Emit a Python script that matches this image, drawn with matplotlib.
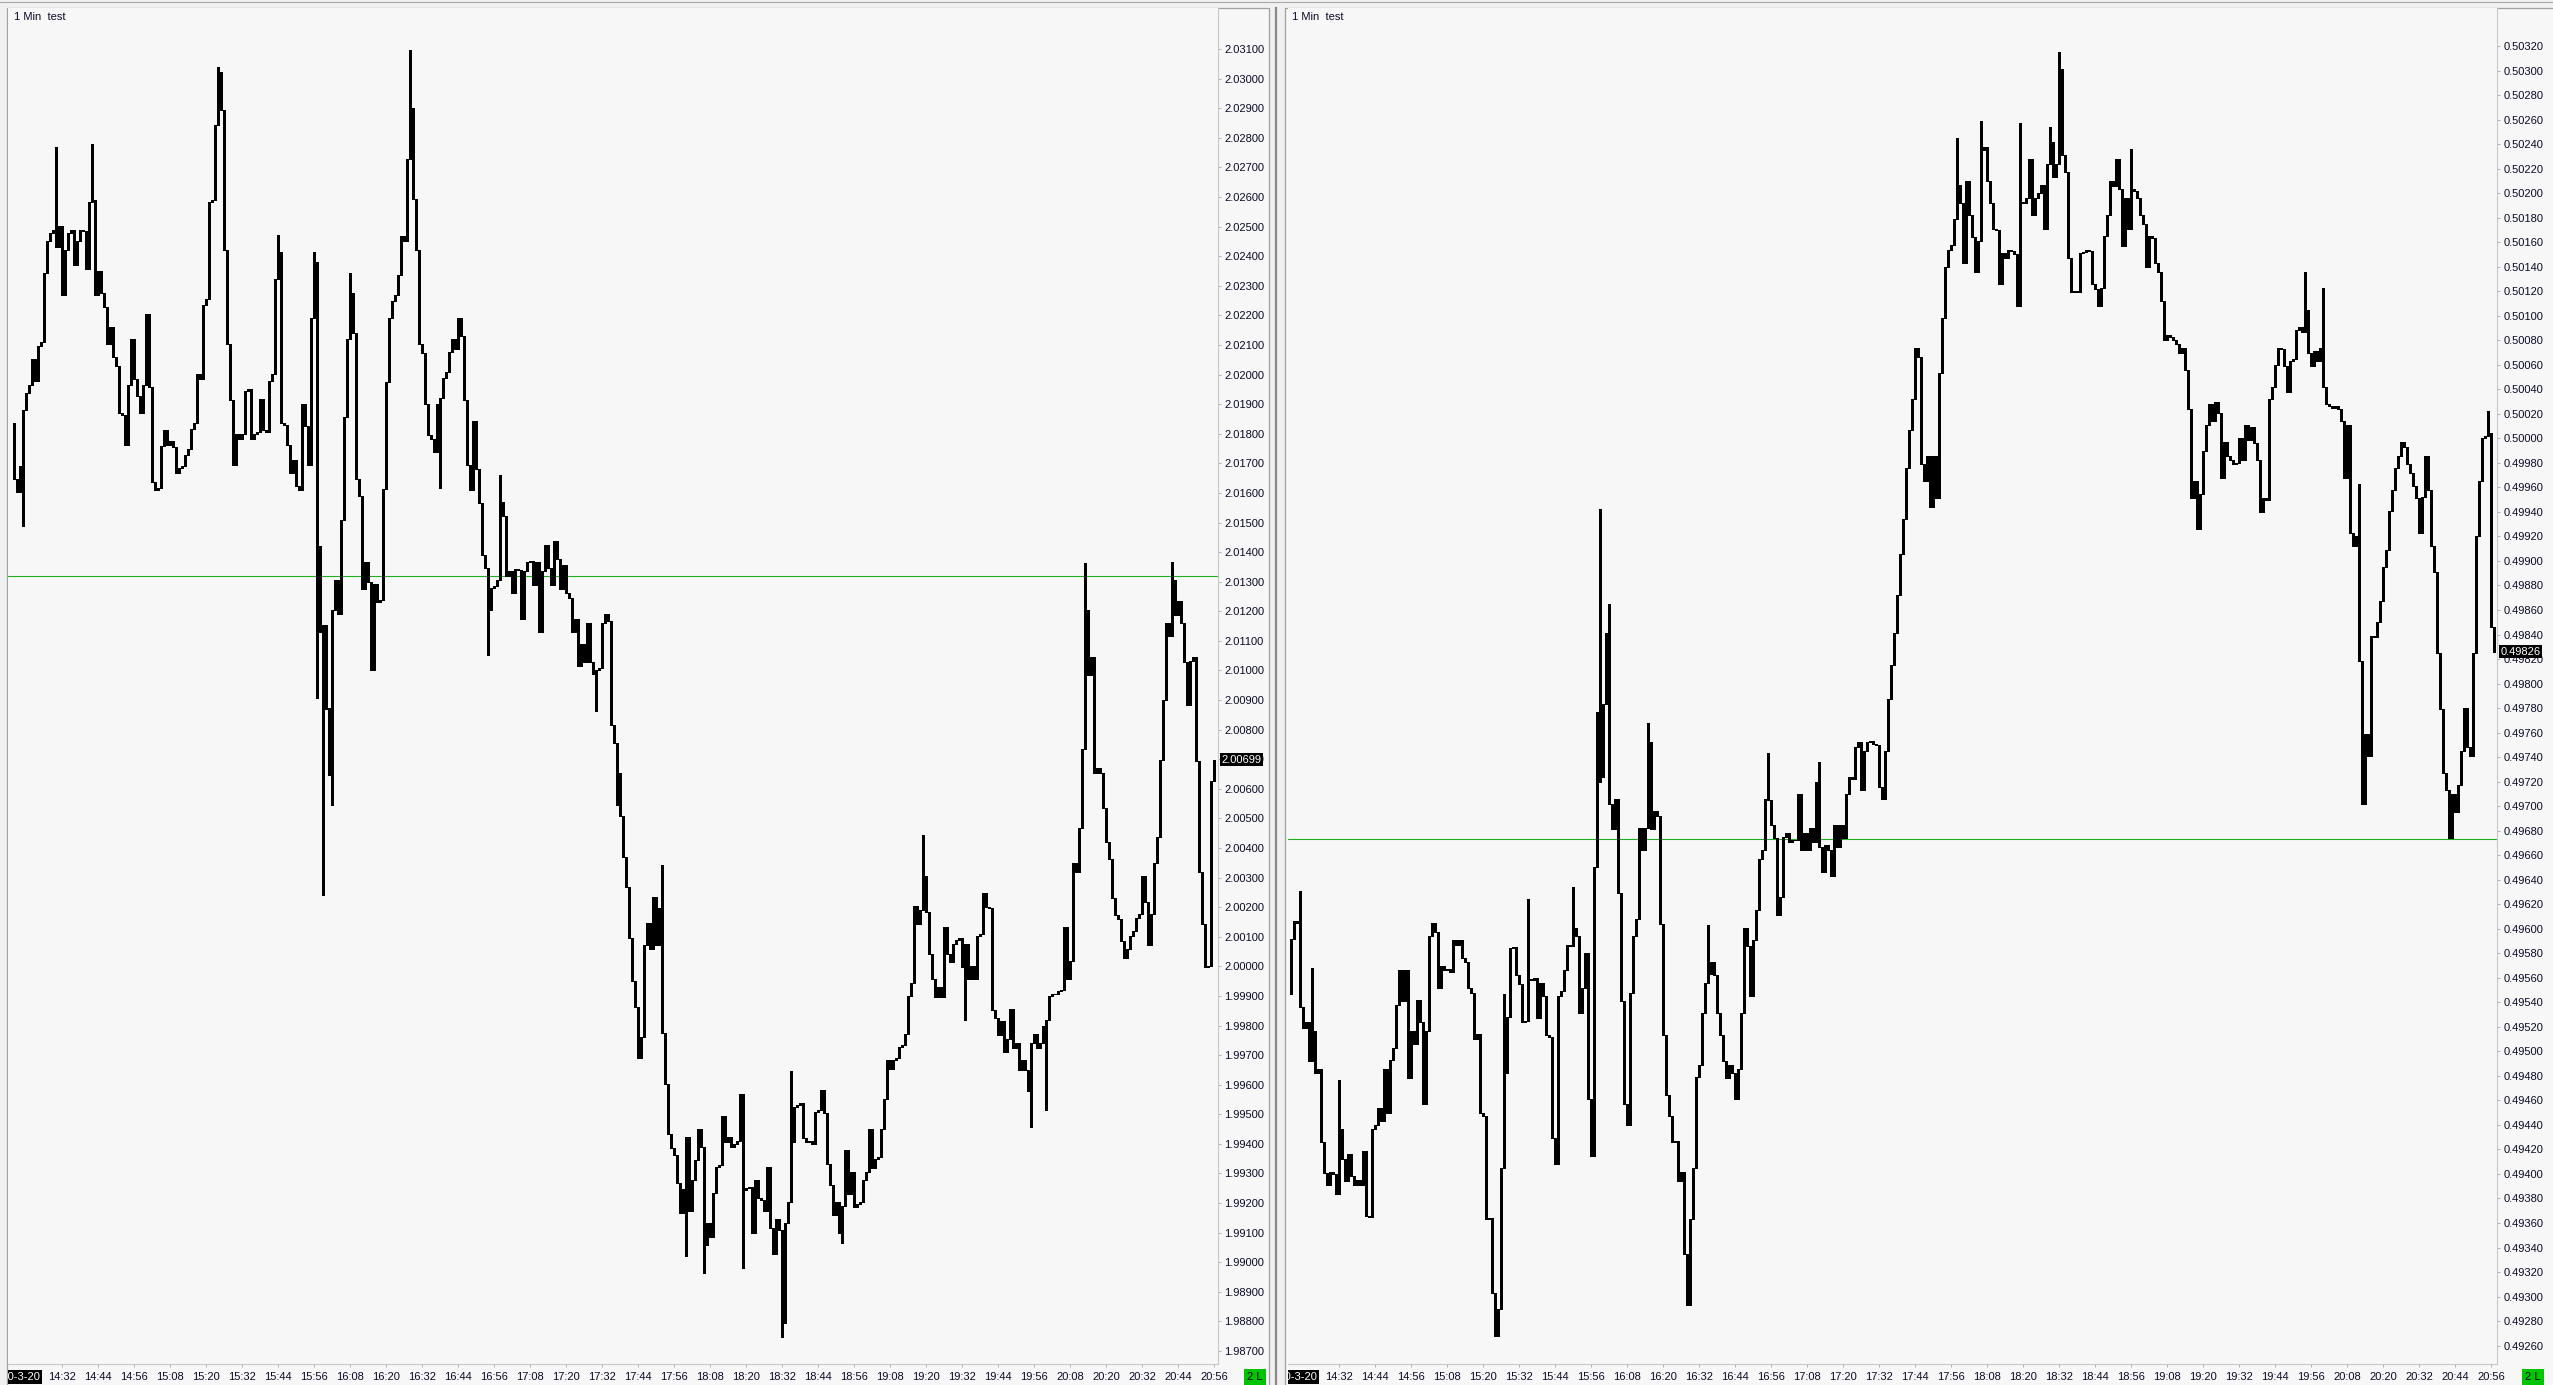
# -*- coding: utf-8 -*-
"""
Two 1-minute candle panels side by side, drawn like a trading terminal.
"""

import numpy as np
import matplotlib
matplotlib.use('Agg')
import matplotlib.pyplot as plt
from matplotlib.patches import Rectangle
from matplotlib.lines import Line2D
from matplotlib.ticker import FormatStrFormatter
from matplotlib.transforms import Bbox, TransformedBbox, blended_transform_factory

plt.rcParams['font.family'] = ['Liberation Sans', 'DejaVu Sans']

# ---- data: minute 0 = 14:16, one close per minute ----
left_open0 = 2.01835
left_close = [
    2.01647, 2.01603, 2.01690, 2.01879, 2.01937, 2.01966, 2.02053, 2.01980, 2.02096, 2.02111,
    2.02343, 2.02450, 2.02479, 2.02488, 2.02430, 2.02502, 2.02270, 2.02421, 2.02479, 2.02488,
    2.02372, 2.02450, 2.02488, 2.02485, 2.02357, 2.02583, 2.02589, 2.02270, 2.02351, 2.02276,
    2.02227, 2.02102, 2.02160, 2.02061, 2.02029, 2.01870, 2.01864, 2.01763, 2.01966, 2.02119,
    2.01986, 2.01928, 2.01870, 2.01966, 2.02206, 2.01957, 2.01638, 2.01609, 2.01618, 2.01757,
    2.01812, 2.01763, 2.01777, 2.01754, 2.01667, 2.01684, 2.01690, 2.01728, 2.01748, 2.01815,
    2.01835, 2.02003, 2.01986, 2.02235, 2.02256, 2.02583, 2.02589, 2.02844, 2.02981, 2.02894,
    2.02421, 2.02102, 2.01913, 2.01696, 2.01800, 2.01783, 2.01800, 2.01945, 2.01951, 2.01783,
    2.01800, 2.01806, 2.01916, 2.01812, 2.01806, 2.01980, 2.02003, 2.02322, 2.02415, 2.01835,
    2.01830, 2.01763, 2.01667, 2.01713, 2.01623, 2.01609, 2.01902, 2.01826, 2.01696, 2.02192,
    2.02380, 2.01420, 2.01130, 2.01154, 2.00869, 2.00872, 2.01206, 2.01307, 2.01191, 2.01510,
    2.01858, 2.02119, 2.02276, 2.02140, 2.01647, 2.01589, 2.01275, 2.01365, 2.01299, 2.01000,
    2.01293, 2.01232, 2.01238, 2.01612, 2.01974, 2.02192, 2.02250, 2.02270, 2.02337, 2.02467,
    2.02450, 2.02728, 2.02902, 2.02595, 2.02421, 2.02102, 2.02073, 2.01899, 2.01797, 2.01783,
    2.01739, 2.01902, 2.01922, 2.01989, 2.02009, 2.02076, 2.02119, 2.02087, 2.02192, 2.02131,
    2.01913, 2.01696, 2.01609, 2.01844, 2.01681, 2.01565, 2.01391, 2.01348, 2.01203, 2.01278,
    2.01284, 2.01307, 2.01568, 2.01522, 2.01319, 2.01336, 2.01261, 2.01342, 2.01340, 2.01174,
    2.01336, 2.01365, 2.01371, 2.01290, 2.01365, 2.01130, 2.01336, 2.01423, 2.01348, 2.01290,
    2.01438, 2.01377, 2.01275, 2.01357, 2.01261, 2.01246, 2.01130, 2.01174, 2.01014, 2.01090,
    2.01029, 2.01162, 2.01029, 2.00988, 2.01003, 2.01009, 2.01162, 2.01191, 2.01168, 2.00814,
    2.00756, 2.00652, 2.00507, 2.00371, 2.00269, 2.00095, 1.99950, 1.99863, 1.99689, 1.99762,
    2.00072, 2.00147, 2.00057, 2.00234, 2.00072, 2.00197, 1.99776, 1.99602, 1.99434, 1.99385,
    1.99364, 1.99269, 1.99167, 1.99248, 1.99422, 1.99173, 1.99277, 1.99347, 1.99451, 1.99390,
    1.99057, 1.99132, 1.99086, 1.99234, 1.99321, 1.99327, 1.99495, 1.99405, 1.99422, 1.99390,
    1.99399, 1.99411, 1.99567, 1.99245, 1.99251, 1.99254, 1.99100, 1.99277, 1.99216, 1.99211,
    1.99173, 1.99321, 1.99115, 1.99028, 1.99147, 1.99109, 1.98796, 1.99132, 1.99205, 1.99408,
    1.99524, 1.99530, 1.99538, 1.99419, 1.99405, 1.99411, 1.99399, 1.99509, 1.99515, 1.99582,
    1.99506, 1.99332, 1.99260, 1.99158, 1.99205, 1.99100, 1.99190, 1.99379, 1.99231, 1.99306,
    1.99187, 1.99196, 1.99205, 1.99277, 1.99306, 1.99451, 1.99318, 1.99350, 1.99356, 1.99451,
    1.99553, 1.99683, 1.99654, 1.99683, 1.99689, 1.99727, 1.99733, 1.99770, 1.99901, 1.99944,
    2.00205, 2.00144, 2.00191, 2.00307, 2.00182, 2.00043, 1.99956, 1.99898, 1.99930, 1.99898,
    2.00133, 2.00043, 2.00014, 2.00075, 2.00089, 2.00095, 1.99999, 2.00075, 1.99956, 2.00002,
    1.99956, 2.00104, 2.00110, 2.00249, 2.00202, 2.00197, 1.99854, 1.99825, 1.99767, 1.99814,
    1.99709, 1.99756, 1.99857, 1.99724, 1.99741, 1.99651, 1.99683, 1.99651, 1.99579, 1.99741,
    1.99770, 1.99724, 1.99741, 1.99799, 1.99820, 1.99901, 1.99907, 1.99905, 1.99915, 1.99921,
    2.00133, 1.99956, 2.00017, 2.00350, 2.00318, 2.00466, 2.00733, 2.01206, 2.00985, 2.01046,
    2.00652, 2.00669, 2.00652, 2.00536, 2.00420, 2.00362, 2.00231, 2.00173, 2.00159, 2.00086,
    2.00028, 2.00060, 2.00104, 2.00118, 2.00162, 2.00176, 2.00307, 2.00217, 2.00072, 2.00176,
    2.00350, 2.00437, 2.00698, 2.00901, 2.01162, 2.01116, 2.01307, 2.01188, 2.01235, 2.01159,
    2.01029, 2.00884, 2.01032, 2.01046, 2.00695, 2.00318, 2.00144, 1.99999, 2.00002, 2.00626,
    2.00699,
]
# long wicks: minute index and extreme price
left_wick_min = [3, 14, 26, 68, 69, 88, 100, 101, 103, 105, 106, 112, 132, 142, 158, 162,
                 194, 201, 216, 224, 230, 243, 256, 259, 276, 303, 317, 339, 344, 357, 386]
left_wick_px = [2.01487, 2.02769, 2.02778, 2.03039, 2.03024, 2.02473, 2.02415, 2.00907,
                2.00240, 2.00646, 2.00545, 2.02343, 2.03097, 2.01617, 2.01052, 2.01661,
                2.00864, 2.00545, 2.00342, 1.99022, 1.98964, 1.98979, 1.98747, 1.99646,
                1.99066, 2.00443, 1.99820, 1.99457, 1.99515, 2.01362, 2.01365]
left_level = 2.01318
left_last = '2.00699'
left_ticks = (1.98700, 2.03100, 0.00100)   # first, last, step of the price scale

right_open0 = 0.49547
right_close = [
    0.49592, 0.49606, 0.49605, 0.49536, 0.49519, 0.49524, 0.49492, 0.49517, 0.49482, 0.49486,
    0.49426, 0.49401, 0.49391, 0.49402, 0.49400, 0.49384, 0.49437, 0.49412, 0.49394, 0.49416,
    0.49398, 0.49391, 0.49395, 0.49391, 0.49419, 0.49366, 0.49365, 0.49437, 0.49440, 0.49454,
    0.49443, 0.49486, 0.49450, 0.49493, 0.49503, 0.49538, 0.49566, 0.49541, 0.49566, 0.49478,
    0.49517, 0.49506, 0.49542, 0.49524, 0.49457, 0.49517, 0.49594, 0.49605, 0.49597, 0.49552,
    0.49570, 0.49566, 0.49567, 0.49565, 0.49591, 0.49587, 0.49591, 0.49576, 0.49573, 0.49552,
    0.49548, 0.49510, 0.49514, 0.49450, 0.49447, 0.49363, 0.49364, 0.49303, 0.49268, 0.49290,
    0.49405, 0.49482, 0.49528, 0.49584, 0.49585, 0.49562, 0.49555, 0.49524, 0.49525, 0.49559,
    0.49558, 0.49560, 0.49527, 0.49556, 0.49545, 0.49513, 0.49512, 0.49429, 0.49408, 0.49545,
    0.49549, 0.49566, 0.49587, 0.49586, 0.49601, 0.49594, 0.49531, 0.49552, 0.49580, 0.49461,
    0.49415, 0.49650, 0.49720, 0.49724, 0.49783, 0.49785, 0.49702, 0.49681, 0.49706, 0.49629,
    0.49541, 0.49457, 0.49440, 0.49548, 0.49594, 0.49608, 0.49682, 0.49664, 0.49682, 0.49752,
    0.49681, 0.49696, 0.49692, 0.49604, 0.49513, 0.49464, 0.49447, 0.49426, 0.49427, 0.49394,
    0.49402, 0.49335, 0.49293, 0.49363, 0.49405, 0.49479, 0.49489, 0.49531, 0.49556, 0.49563,
    0.49573, 0.49562, 0.49531, 0.49513, 0.49492, 0.49478, 0.49489, 0.49482, 0.49461, 0.49486,
    0.49531, 0.49601, 0.49586, 0.49545, 0.49591, 0.49615, 0.49657, 0.49664, 0.49706, 0.49705,
    0.49685, 0.49674, 0.49611, 0.49626, 0.49675, 0.49678, 0.49671, 0.49672, 0.49672, 0.49710,
    0.49664, 0.49678, 0.49664, 0.49682, 0.49671, 0.49720, 0.49667, 0.49646, 0.49668, 0.49664,
    0.49643, 0.49685, 0.49667, 0.49685, 0.49674, 0.49710, 0.49724, 0.49722, 0.49748, 0.49752,
    0.49713, 0.49745, 0.49752, 0.49753, 0.49751, 0.49750, 0.49716, 0.49706, 0.49745, 0.49787,
    0.49815, 0.49841, 0.49872, 0.49906, 0.49934, 0.49976, 0.50007, 0.50032, 0.50074, 0.50066,
    0.49979, 0.49965, 0.49986, 0.49944, 0.49986, 0.49951, 0.50053, 0.50098, 0.50140, 0.50154,
    0.50158, 0.50179, 0.50207, 0.50192, 0.50143, 0.50210, 0.50182, 0.50164, 0.50136, 0.50161,
    0.50235, 0.50238, 0.50210, 0.50192, 0.50171, 0.50170, 0.50126, 0.50151, 0.50147, 0.50154,
    0.50153, 0.50150, 0.50108, 0.50193, 0.50192, 0.50196, 0.50228, 0.50182, 0.50196, 0.50200,
    0.50207, 0.50171, 0.50224, 0.50242, 0.50213, 0.50224, 0.50301, 0.50231, 0.50217, 0.50147,
    0.50119, 0.50120, 0.50119, 0.50151, 0.50152, 0.50154, 0.50153, 0.50126, 0.50122, 0.50108,
    0.50123, 0.50165, 0.50182, 0.50210, 0.50206, 0.50228, 0.50203, 0.50157, 0.50196, 0.50171,
    0.50203, 0.50202, 0.50196, 0.50182, 0.50175, 0.50140, 0.50165, 0.50163, 0.50143, 0.50136,
    0.50112, 0.50080, 0.50084, 0.50083, 0.50080, 0.50077, 0.50070, 0.50074, 0.50056, 0.50024,
    0.49951, 0.49965, 0.49926, 0.49955, 0.49990, 0.50011, 0.50028, 0.50014, 0.50030, 0.50021,
    0.49968, 0.49997, 0.49986, 0.49982, 0.49979, 0.49980, 0.50000, 0.49982, 0.50011, 0.49999,
    0.50009, 0.49996, 0.49982, 0.49940, 0.49951, 0.49950, 0.50032, 0.50042, 0.50060, 0.50074,
    0.50073, 0.50059, 0.50038, 0.50063, 0.50065, 0.50088, 0.50091, 0.50087, 0.50105, 0.50070,
    0.50059, 0.50071, 0.50063, 0.50074, 0.50042, 0.50028, 0.50026, 0.50025, 0.50026, 0.50024,
    0.50014, 0.49968, 0.50011, 0.49923, 0.49912, 0.49920, 0.49818, 0.49702, 0.49759, 0.49741,
    0.49839, 0.49838, 0.49850, 0.49867, 0.49895, 0.49909, 0.49941, 0.49958, 0.49976, 0.49986,
    0.49997, 0.49993, 0.49979, 0.49972, 0.49961, 0.49951, 0.49923, 0.49952, 0.49986, 0.49958,
    0.49912, 0.49891, 0.49825, 0.49779, 0.49727, 0.49713, 0.49674, 0.49710, 0.49695, 0.49717,
    0.49745, 0.49780, 0.49748, 0.49741, 0.49825, 0.49920, 0.49965, 0.50000, 0.50002, 0.50004,
    0.49846, 0.49826,
]
right_wick_min = [3, 7, 16, 71, 79, 94, 102, 103, 105, 106, 119, 139, 159, 176,
                  222, 230, 243, 253, 256, 280, 338, 344, 356, 399]
right_wick_px = [0.49631, 0.49568, 0.49477, 0.49547, 0.49624, 0.49634, 0.49777, 0.49942,
                 0.49841, 0.49865, 0.49768, 0.49603, 0.49743, 0.49736, 0.50245, 0.50259,
                 0.50257, 0.50254, 0.50315, 0.50236, 0.50136, 0.50123, 0.49963, 0.50022]
right_level = 0.49673
right_last = '0.49826'
right_ticks = (0.49260, 0.50320, 0.00020)

time_labels = ['14:32', '14:44', '14:56', '15:08', '15:20', '15:32', '15:44', '15:56',
               '16:08', '16:20', '16:32', '16:44', '16:56', '17:08', '17:20', '17:32',
               '17:44', '17:56', '18:08', '18:20', '18:32', '18:44', '18:56', '19:08',
               '19:20', '19:32', '19:44', '19:56', '20:08', '20:20', '20:32', '20:44', '20:56']
time_minutes = [16 + 12 * i for i in range(len(time_labels))]
date_label = '2020-3-20'

# ---- figure in pixel units ----
W, H = 2553, 1385
BG = '#f7f7f7'
TXT = '#0a0a28'
fig = plt.figure(figsize=(W / 100, H / 100), dpi=100, facecolor='#f0f0f0')


def px_rect(x0, y0, x1, y1, **kw):
    return Rectangle((x0 / W, 1 - y1 / H), (x1 - x0) / W, (y1 - y0) / H,
                     transform=fig.transFigure, **kw)


fig.add_artist(Line2D([0, 1], [1 - 2 / H] * 2, color='#a8a8a8', lw=0.8,
                      transform=fig.transFigure, zorder=-2))
fig.add_artist(px_rect(7, 8, 1269, 1395, facecolor=BG, edgecolor='#a0a0a0',
                       lw=0.9, zorder=-1))
fig.add_artist(px_rect(1285, 8, 2565, 1395, facecolor=BG, edgecolor='#a0a0a0',
                       lw=0.9, zorder=-1))
fig.add_artist(Line2D([1276 / W] * 2, [0, 1 - 8 / H], color='#8a8a8a', lw=1.6,
                      transform=fig.transFigure, zorder=-1))


def draw_panel(rect, frame_x, xlim, ylim, open0, closes, wick_min, wick_px,
               ticks, level, last_label, title_x, lot_x):
    ax = fig.add_axes([rect[0] / W, 1 - rect[3] / H,
                       (rect[2] - rect[0]) / W, (rect[3] - rect[1]) / H])
    ax.set_facecolor(BG)

    closes = np.array(closes)
    opens = np.concatenate([[open0], closes[:-1]])
    x = np.arange(len(closes))
    top = np.maximum(opens, closes)
    bot = np.minimum(opens, closes)
    hi = top.copy()
    lo = bot.copy()
    for m, p in zip(wick_min, wick_px):
        if p > hi[m]:
            hi[m] = p
        elif p < lo[m]:
            lo[m] = p

    ax.vlines(x, lo, hi, color='black', lw=0.9, zorder=3, antialiased=False)
    ax.bar(x, top - bot, bottom=bot, width=0.86, color='black',
           edgecolor='black', linewidth=0.7, zorder=3, antialiased=False)
    ax.axhline(level, color='#1fb01f', lw=0.8, zorder=2)

    ax.set_xlim(*xlim)
    ax.set_ylim(*ylim)

    for s in ('top', 'left'):
        ax.spines[s].set_visible(False)
    for s in ('right', 'bottom'):
        ax.spines[s].set_color('#c8c8c8')
        ax.spines[s].set_linewidth(0.8)

    first, last, step = ticks
    n = int(round((last - first) / step)) + 1
    ax.yaxis.tick_right()
    ax.set_yticks(first + step * np.arange(n))
    ax.yaxis.set_major_formatter(FormatStrFormatter('%.5f'))
    ax.tick_params(axis='y', length=2.5, width=0.7, pad=2, color='#b0b0b0',
                   labelcolor=TXT, labelsize=8)
    ax.set_xticks(time_minutes, time_labels)
    ax.tick_params(axis='x', length=2.5, width=0.7, pad=3, color='#b0b0b0',
                   labelcolor=TXT, labelsize=8)

    # last price tag on the price scale
    tr = blended_transform_factory(ax.transAxes, ax.transData)
    ax.text(1.003, float(closes[-1]), last_label, transform=tr, ha='left',
            va='center', color='white', fontsize=8, zorder=6, clip_on=False,
            bbox=dict(boxstyle='square,pad=0.15', facecolor='black',
                      edgecolor='none'))

    # date tag under the first bar, cut by the panel frame
    trx = blended_transform_factory(ax.transData, ax.transAxes)
    t = ax.text(8.7, -0.0095, date_label, transform=trx, ha='right', va='center',
                color='white', fontsize=8, zorder=6,
                bbox=dict(boxstyle='square,pad=0.15', facecolor='black',
                          edgecolor='none'))
    t.set_clip_box(TransformedBbox(Bbox.from_extents(frame_x / W, 0, 1, 1),
                                   fig.transFigure))
    t.set_clip_on(True)

    fig.text(title_x / W, 1 - 17 / H, '1 Min  test', ha='left', va='center',
             fontsize=8, color=TXT)
    fig.text(lot_x / W, 1 - 1377 / H, '2 L', ha='center', va='center',
             fontsize=8, color='black',
             bbox=dict(boxstyle='square,pad=0.25', facecolor='#00c400',
                       edgecolor='none'))
    return ax


draw_panel((8, 8, 1218, 1364), 8, (-2, 401.3), (1.98656, 2.03239),
           left_open0, left_close, left_wick_min, left_wick_px, left_ticks,
           left_level, left_last, 14, 1255)
draw_panel((1288, 8, 2497, 1364), 1288, (-1, 402), (0.49245, 0.50351),
           right_open0, right_close, right_wick_min, right_wick_px, right_ticks,
           right_level, right_last, 1292, 2533)

fig.savefig('out.png', dpi=100, facecolor=fig.get_facecolor())
